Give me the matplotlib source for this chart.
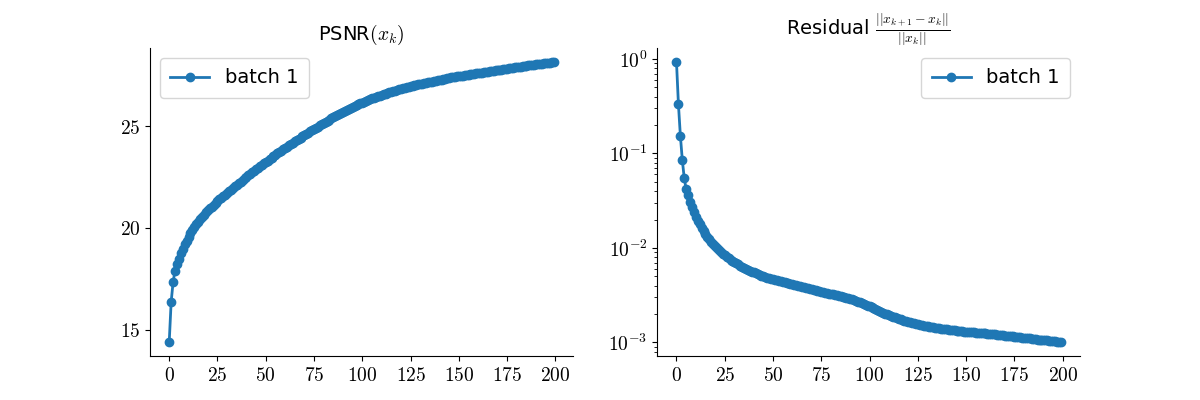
import numpy as np
import matplotlib
matplotlib.use("Agg")
import matplotlib.pyplot as plt
from matplotlib.ticker import FuncFormatter, MultipleLocator

plt.rcParams["mathtext.fontset"] = "cm"
plt.rcParams["font.family"] = ["DejaVu Sans"]
plt.rcParams["font.size"] = 14

# values, one per iteration
psnr = [
    14.40, 16.36, 17.34, 17.89, 18.22, 18.50, 18.75, 18.98, 19.19, 19.38,
    19.56, 19.73, 19.89, 20.04, 20.18, 20.31, 20.43, 20.54, 20.65, 20.76,
    20.86, 20.96, 21.05, 21.14, 21.23, 21.32, 21.40, 21.48, 21.56, 21.64,
    21.72, 21.80, 21.88, 21.96, 22.04, 22.12, 22.20, 22.28, 22.35, 22.43,
    22.50, 22.58, 22.65, 22.73, 22.80, 22.88, 22.95, 23.03, 23.10, 23.17,
    23.24, 23.31, 23.38, 23.45, 23.52, 23.59, 23.66, 23.72, 23.79, 23.86,
    23.92, 23.99, 24.05, 24.12, 24.18, 24.25, 24.31, 24.37, 24.44, 24.50,
    24.56, 24.62, 24.68, 24.74, 24.80, 24.86, 24.92, 24.98, 25.04, 25.10,
    25.16, 25.21, 25.27, 25.32, 25.38, 25.43, 25.49, 25.54, 25.59, 25.64,
    25.69, 25.74, 25.79, 25.84, 25.89, 25.94, 25.98, 26.03, 26.07, 26.12,
    26.16, 26.20, 26.24, 26.28, 26.32, 26.36, 26.40, 26.43, 26.47, 26.50,
    26.54, 26.57, 26.60, 26.63, 26.66, 26.69, 26.72, 26.75, 26.78, 26.80,
    26.83, 26.86, 26.88, 26.91, 26.93, 26.96, 26.98, 27.00, 27.03, 27.05,
    27.07, 27.09, 27.11, 27.13, 27.15, 27.17, 27.19, 27.21, 27.23, 27.25,
    27.27, 27.29, 27.31, 27.33, 27.35, 27.37, 27.39, 27.41, 27.42, 27.44,
    27.45, 27.47, 27.48, 27.50, 27.51, 27.53, 27.54, 27.56, 27.57, 27.59,
    27.60, 27.62, 27.63, 27.65, 27.66, 27.68, 27.69, 27.71, 27.72, 27.74,
    27.75, 27.77, 27.78, 27.80, 27.81, 27.82, 27.84, 27.85, 27.87, 27.88,
    27.89, 27.91, 27.92, 27.94, 27.95, 27.96, 27.98, 27.99, 28.00, 28.02,
    28.03, 28.04, 28.06, 28.07, 28.08, 28.10, 28.11, 28.12, 28.14, 28.15,
]

residual = [
    0.93, 0.333, 0.155, 0.086, 0.055, 0.042, 0.036, 0.031, 0.027, 0.024,
    0.0215, 0.0195, 0.0178, 0.0164, 0.0152, 0.0141, 0.0132, 0.0124, 0.0117, 0.0111,
    0.0105, 0.0100, 0.0095, 0.0091, 0.0087, 0.0084, 0.0081, 0.0078, 0.0075, 0.0073,
    0.0071, 0.0069, 0.0067, 0.0065, 0.0063, 0.0062, 0.0060, 0.0059, 0.0057, 0.0056,
    0.0055, 0.0054, 0.0053, 0.0052, 0.0051, 0.0050, 0.0049, 0.0048, 0.0048, 0.0047,
    0.00465, 0.0046, 0.00455, 0.0045, 0.00445, 0.0044, 0.00435, 0.0043, 0.00425, 0.0042,
    0.00415, 0.0041, 0.00405, 0.0040, 0.00395, 0.0039, 0.00385, 0.0038, 0.00375, 0.0037,
    0.00365, 0.0036, 0.00356, 0.00352, 0.00348, 0.00344, 0.0034, 0.00336, 0.00332, 0.00328,
    0.00325, 0.00322, 0.00318, 0.00315, 0.00312, 0.00309, 0.00305, 0.00301, 0.00297, 0.00293,
    0.00289, 0.00285, 0.0028, 0.00275, 0.0027, 0.00265, 0.0026, 0.00255, 0.0025, 0.00245,
    0.0024, 0.00235, 0.0023, 0.00225, 0.0022, 0.00215, 0.0021, 0.00206, 0.00202, 0.00198,
    0.00194, 0.0019, 0.00187, 0.00184, 0.00181, 0.00178, 0.00175, 0.00172, 0.0017, 0.00168,
    0.00166, 0.00164, 0.00162, 0.0016, 0.00158, 0.00156, 0.00154, 0.00152, 0.0015, 0.00149,
    0.00148, 0.00146, 0.00145, 0.00144, 0.00143, 0.00142, 0.00141, 0.0014, 0.00139, 0.00138,
    0.00137, 0.00136, 0.00135, 0.00134, 0.00134, 0.00133, 0.00132, 0.00132, 0.00131, 0.0013,
    0.0013, 0.00129, 0.00129, 0.00128, 0.00128, 0.00127, 0.00127, 0.00126, 0.00126, 0.00125,
    0.00125, 0.00124, 0.00124, 0.00123, 0.00122, 0.00122, 0.00121, 0.0012, 0.0012, 0.00119,
    0.00118, 0.00118, 0.00117, 0.00116, 0.00116, 0.00115, 0.00114, 0.00114, 0.00113, 0.00112,
    0.00112, 0.00111, 0.0011, 0.0011, 0.00109, 0.00109, 0.00108, 0.00107, 0.00107, 0.00106,
    0.00106, 0.00105, 0.00105, 0.00104, 0.00104, 0.00103, 0.00103, 0.00102, 0.00102, 0.00101,
]

iters = np.arange(len(psnr))

int_fmt = FuncFormatter(lambda v, pos: "$%d$" % round(v))
log_fmt = FuncFormatter(lambda v, pos: "$10^{%d}$" % round(np.log10(v)))

fig, (ax1, ax2) = plt.subplots(1, 2, figsize=(12, 4), dpi=100)

ax1.plot(iters, psnr, marker="o", linewidth=2, label="batch 1")
ax1.set_title(r"PSNR$(x_k)$", fontsize=14)
ax1.legend(loc="upper left", borderpad=0.55)
ax1.xaxis.set_major_locator(MultipleLocator(25))
ax1.yaxis.set_major_locator(MultipleLocator(5))
ax1.xaxis.set_major_formatter(int_fmt)
ax1.yaxis.set_major_formatter(int_fmt)

ax2.plot(iters, residual, marker="o", linewidth=2, label="batch 1")
ax2.set_yscale("log")
ax2.set_title(r"Residual $\frac{||x_{k+1}-x_k||}{||x_k||}$", fontsize=14)
ax2.legend(loc="upper right", borderpad=0.55)
ax2.xaxis.set_major_locator(MultipleLocator(25))
ax2.xaxis.set_major_formatter(int_fmt)
ax2.yaxis.set_major_formatter(log_fmt)

for ax in (ax1, ax2):
    ax.spines["top"].set_visible(False)
    ax.spines["right"].set_visible(False)

fig.savefig("out.png")
